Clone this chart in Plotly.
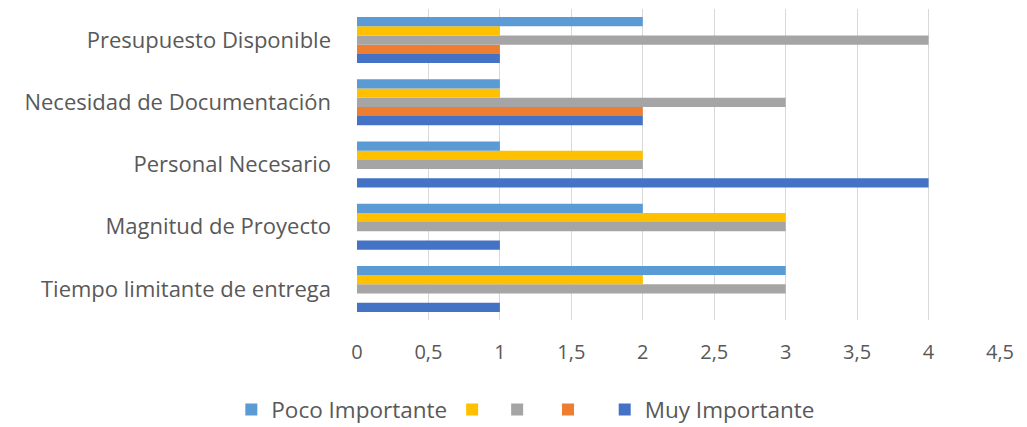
import plotly.graph_objects as go

categories = ["Tiempo limitante de entrega", "Magnitud de Proyecto", "Personal Necesario",
              "Necesidad de Documentación", "Presupuesto Disponible"]
poco_importante = [3, 2, 1, 1, 2]
amarillo = [2, 3, 2, 1, 1]
gris = [3, 3, 2, 3, 4]
naranja = [0, 0, 0, 2, 1]
muy_importante = [1, 1, 4, 2, 1]
x_ticks = [0, 0.5, 1, 1.5, 2, 2.5, 3, 3.5, 4, 4.5]
x_tick_labels = ["0", "0,5", "1", "1,5", "2", "2,5", "3", "3,5", "4", "4,5"]

series = [
    ("Muy Importante", muy_importante, "#4472C4"),
    ("  ", naranja, "#ED7D31"),
    (" ", gris, "#A5A5A5"),
    ("", amarillo, "#FFC000"),
    ("Poco Importante", poco_importante, "#5B9BD5"),
]

fig = go.Figure()
for name, vals, color in series:
    fig.add_trace(go.Bar(y=categories, x=vals, name=name, orientation="h",
                         marker=dict(color=color, line=dict(width=0))))

fig.update_layout(
    width=1027, height=427,
    margin=dict(l=357, r=27, t=9, b=107, autoexpand=False),
    barmode="group", bargap=0.26, bargroupgap=0,
    plot_bgcolor="white", paper_bgcolor="white",
    font=dict(family="Open Sans, Liberation Sans, sans-serif", size=20, color="#595959"),
    showlegend=True,
    legend=dict(orientation="h", xref="container", x=0.512, xanchor="center",
                yref="container", y=0.04, yanchor="middle",
                traceorder="reversed", font=dict(size=22.5, color="#595959"),
                itemwidth=30),
    xaxis=dict(range=[0, 4.5], tickvals=x_ticks, ticktext=x_tick_labels,
               showgrid=True, gridcolor="#D9D9D9", gridwidth=1, zeroline=False,
               showline=False, ticks="", ticklabelstandoff=18,
               tickfont=dict(size=20, color="#595959")),
    yaxis=dict(showgrid=False, showline=False, ticks="", ticklabelstandoff=25,
               tickfont=dict(size=22, color="#595959")),
)

fig.write_html("out.html")
